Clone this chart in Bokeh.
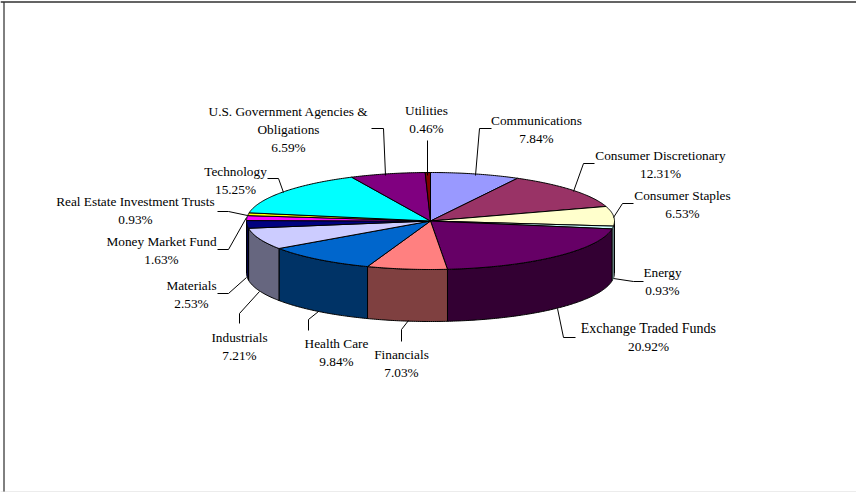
import numpy as np
from bokeh.core.properties import value
from bokeh.embed import file_html
from bokeh.models import Range1d
from bokeh.plotting import figure
from bokeh.resources import INLINE

# Sector allocation, clockwise from twelve o'clock
sectors = ["Communications", "Consumer Discretionary", "Consumer Staples", "Energy",
           "Exchange Traded Funds", "Financials", "Health Care", "Industrials",
           "Materials", "Money Market Fund", "Real Estate Investment Trusts",
           "Technology", "U.S. Government Agencies &\nObligations", "Utilities"]
weights = [7.84, 12.31, 6.53, 0.93, 20.92, 7.03, 9.84, 7.21, 2.53, 1.63, 0.93, 15.25, 6.59, 0.46]
top_colors = ["#9999FF", "#993366", "#FFFFCC", "#CCFFFF", "#660066", "#FF8080", "#0066CC",
              "#CCCCFF", "#000080", "#FF00FF", "#FFFF00", "#00FFFF", "#800080", "#800000"]

# Centre x, first-line y and name font size of each label
label_x = [536, 660, 682, 662, 648, 401, 336, 239, 191, 161, 135, 235, 288, 426]
label_y = [120, 155, 195, 272, 328, 354, 343, 337, 285, 241, 201, 171, 111, 110]
name_size = [13.3, 13.3, 13.3, 13.3, 14, 13.3, 13.3, 13.3, 13.3, 13.3, 13.3, 13.3, 13.3, 13.3]
line_step = 18

# Leader polylines, from the label side to the pie
leaders = [
    ([491, 479, 475], [128, 128, 175]),
    ([594, 583, 573], [163, 163, 191]),
    ([633, 622, 613], [203, 203, 217]),
    ([643, 633, 613], [281, 281, 278]),
    ([575, 563, 557], [337, 337, 308]),
    ([401, 401, 408], [341, 329, 320]),
    ([308, 308, 318], [330, 319, 311]),
    ([239, 239, 259], [323, 313, 291]),
    ([217, 228, 246], [293, 293, 277]),
    ([217, 228, 246], [249, 249, 217]),
    ([217, 228, 247], [211, 211, 215]),
    ([267, 278, 283], [178, 178, 192]),
    ([371, 383, 385], [128, 128, 175]),
    ([427, 427], [140, 175]),
]

# Pie projection
cx, cy, rx, ry, depth = 430.0, 220.5, 184.0, 48.5, 52.0


def darken(color):
    r, g, b = (int(color[i:i + 2], 16) // 2 for i in (1, 3, 5))
    return f"#{r:02X}{g:02X}{b:02X}"


def arc(a0, a1, drop=0.0):
    t = np.linspace(a0, a1, max(int(abs(a1 - a0) * 90), 3))
    return cx + rx * np.sin(t), cy + drop - ry * np.cos(t)


edges = np.concatenate([[0.0], np.cumsum(weights)]) / sum(weights) * 2 * np.pi

wall_xs, wall_ys, wall_fill, wall_line = [], [], [], []
top_xs, top_ys = [], []
for i, color in enumerate(top_colors):
    a0, a1 = edges[i], edges[i + 1]
    xa, ya = arc(a0, a1)
    top_xs.append(np.concatenate([[cx], xa]).tolist())
    top_ys.append(np.concatenate([[cy], ya]).tolist())
    # Only the front half of the rim is visible
    w0, w1 = max(a0, np.pi / 2), min(a1, 3 * np.pi / 2)
    if w1 > w0:
        xu, yu = arc(w0, w1)
        xd, yd = arc(w0, w1, depth)
        wall_xs.append(np.concatenate([xu, xd[::-1]]).tolist())
        wall_ys.append(np.concatenate([yu, yd[::-1]]).tolist())
        wall_fill.append(darken(color))
        # A very narrow wall would vanish under its own outline
        wall_line.append(darken(color) if weights[i] < 1.5 else "#000000")

p = figure(width=856, height=492, output_backend="svg", toolbar_location=None,
           x_range=Range1d(0, 856), y_range=Range1d(492, 0),
           min_border=0, outline_line_color=None, background_fill_color="white",
           border_fill_color="white")
p.axis.visible = False
p.grid.visible = False

# Page frame
p.line([3.5, 3.5], [1.5, 492], line_color="#000000", line_width=1)
p.line([0, 856], [1.5, 1.5], line_color="#303030", line_width=1.5)
p.line([0, 856], [491.5, 491.5], line_color="#D9D9D9", line_width=1)

p.patches(wall_xs, wall_ys, fill_color=wall_fill, line_color=wall_line, line_width=1)
p.patches(top_xs, top_ys, fill_color=top_colors, line_color="black", line_width=1)

for xs, ys in leaders:
    p.line(xs, ys, line_color="black", line_width=1)

tx, ty, tt, ts = [], [], [], []
for name, w, x, y, size in zip(sectors, weights, label_x, label_y, name_size):
    name_lines = name.split("\n")
    for k, line in enumerate(name_lines + [f"{w:.2f}%"]):
        tx.append(x)
        ty.append(y + k * line_step)
        tt.append(line)
        ts.append(f"{size if k < len(name_lines) else 13.3}px")
p.text(tx, ty, text=tt, text_font=value("Liberation Serif"), text_font_size=ts,
       text_align="center", text_baseline="middle", text_color="black")

open("out.html", "w").write(file_html(p, INLINE))
